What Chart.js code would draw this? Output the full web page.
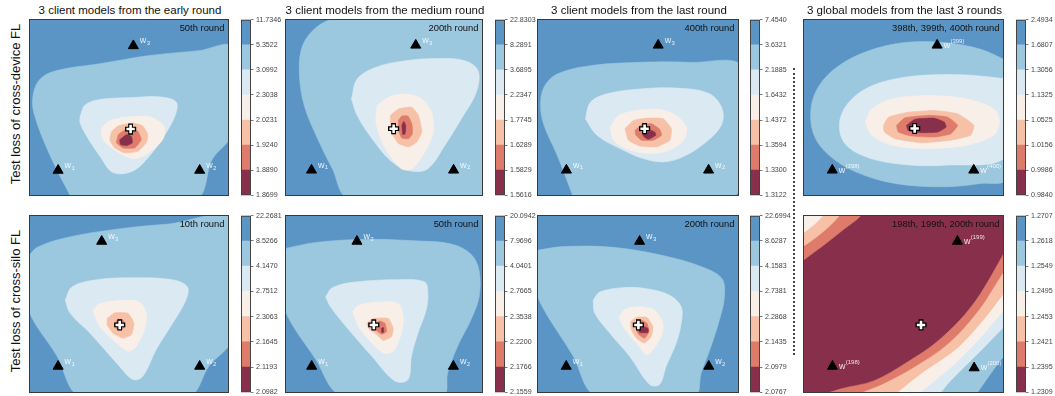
<!DOCTYPE html>
<html><head><meta charset="utf-8">
<script src="https://cdn.jsdelivr.net/npm/chart.js@4/dist/chart.umd.min.js"></script>
<style>
body{margin:0;width:1055px;height:396px;background:#fff;position:relative;overflow:hidden;font-family:"Liberation Sans",Arial,Helvetica,sans-serif;}
.frame{position:absolute;box-sizing:border-box;border:1px solid #3a3a3a;}
.frame canvas{display:block;}
.title{position:absolute;font-size:11.5px;line-height:11.5px;color:#111;white-space:nowrap;transform:translateX(-50%);}
.ylab{position:absolute;font-size:13px;line-height:13px;color:#111;white-space:nowrap;transform:translate(-50%,-50%) rotate(-90deg);}
.round{position:absolute;font-size:9.4px;line-height:9.4px;color:#111;white-space:nowrap;}
.sep{position:absolute;left:793px;top:68px;height:287px;border-left:2px dotted #444;}
</style></head><body>
<script>
// ---------- text ----------
const colTitles = ['3 client models from the early round','3 client models from the medium round','3 client models from the last round','3 global models from the last 3 rounds'];
const rowTitles = ['Test loss of cross-device FL','Test loss of cross-silo FL'];
const roundTexts = ['50th round','200th round','400th round','398th, 399th, 400th round','10th round','50th round','200th round','198th, 199th, 200th round'];
const clientLabels = ['1','2','3'];
const deviceGlobalLabels = ['(398)','(400)','(399)'];
const siloGlobalLabels = ['(198)','(200)','(199)'];

// ---------- colorbar tick labels (top to bottom) ----------
const p1Ticks = ['11.7346','5.3522','3.0992','2.3038','2.0231','1.9240','1.8890','1.8699'];
const p2Ticks = ['22.8303','8.2891','3.6895','2.2347','1.7745','1.6289','1.5829','1.5616'];
const p3Ticks = ['7.4540','3.6321','2.1885','1.6432','1.4372','1.3594','1.3300','1.3122'];
const p4Ticks = ['2.4934','1.6807','1.3056','1.1325','1.0525','1.0156','0.9986','0.9840'];
const p5Ticks = ['22.2681','8.5266','4.1470','2.7512','2.3063','2.1645','2.1193','2.0982'];
const p6Ticks = ['20.0942','7.9696','4.0401','2.7665','2.3538','2.2200','2.1766','2.1559'];
const p7Ticks = ['22.6994','8.6287','4.1583','2.7381','2.2868','2.1435','2.0979','2.0767'];
const p8Ticks = ['1.2707','1.2618','1.2549','1.2495','1.2453','1.2421','1.2395','1.2309'];

// ---------- model positions (w1, w2, w3) and averaged model (+) in plane coords 0..100 ----------
const p1Models = [[14.2,14.1],[85.7,14.1],[52.2,85.3]]; const p1Center = [50.8,37.7];
const p2Models = [[13.0,14.2],[85.5,14.2],[66.2,85.6]]; const p2Center = [54.9,37.9];
const p3Models = [[14.2,14.2],[85.3,14.2],[60.1,85.6]]; const p3Center = [53.3,37.9];
const p4Models = [[14.2,14.2],[85.3,14.2],[66.9,85.6]]; const p4Center = [55.6,38.0];
const p5Models = [[14.2,14.6],[85.7,14.6],[36.2,85.6]]; const p5Center = [45.3,38.1];
const p6Models = [[13.1,14.6],[85.4,14.6],[36.2,85.6]]; const p6Center = [44.8,38.1];
const p7Models = [[14.1,14.6],[85.4,14.6],[50.8,85.6]]; const p7Center = [50.2,38.1];
const p8Models = [[14.3,14.6],[85.5,13.7],[77.1,85.6]]; const p8Center = [58.8,38.1];

// ---------- contour level boundaries, outermost first ----------
const p1Bands = [5,4,3,2,1,0];
const p1Contours = [
 [[21.2,-2.3],[10.3,22.2],[2.0,46.7],[1.7,58.0],[5.3,66.5],[13.7,71.2],[35.3,75.0],[60.3,79.7],[85.3,82.5],[102,84.4],[102,35.4],[92,20.3],[83.7,-2.3]],
 [[25.3,44.8],[27.8,51.4],[35.3,54.6],[52.0,55.7],[65.3,56.1],[73.7,53.3],[73.7,46.7],[68.7,35.4],[60.3,22.2],[52.0,13.7],[42.0,12.8],[35.3,22.2],[28.7,33.5],[25.3,41.1]],
 [[40.3,42.6],[47.0,44.4],[60.3,44.8],[67.8,39.2],[67.0,31.6],[58.7,23.2],[52.0,20.7],[43.7,25.0],[37.0,31.6],[36.2,38.2]],
 [[41.2,36.3],[44.5,39.5],[52.0,41.1],[57.0,39.5],[59.5,34.5],[58.7,29.8],[54.5,25.0],[47.8,24.1],[42.8,26.9],[40.3,31.6]],
 [[44.5,34.5],[49.5,38.2],[54.5,36.3],[56.2,31.6],[52.8,26.9],[47.0,26.9],[43.7,29.8]],
 [[45.3,31.6],[48.7,34.5],[51.2,33.5],[51.7,29.8],[48.7,28.2],[45.7,28.8]]
];
const p2Bands = [5,4,3,2,1,0];
const p2Contours = [
 [[26.2,102.3],[15.2,95.6],[8.4,85.2],[6.8,70.1],[9.3,51.1],[16.9,30.3],[23.6,15.2],[32.1,-1.9],[108,-1.9],[108,102.3]],
 [[33.4,54.9],[36.3,66.3],[45.6,72.9],[60.8,76.7],[77.7,78.0],[91.2,76.7],[98.0,71.0],[97.1,58.7],[89.5,43.6],[81.1,28.4],[72.6,15.2],[64.2,13.6],[54.1,18.9],[43.9,32.2],[36.3,45.5]],
 [[46.5,51.1],[52.4,55.9],[60.8,57.8],[69.3,54.9],[74.3,47.3],[75.2,36.0],[70.9,24.6],[64.2,14.8],[59.1,14.8],[54.1,20.8],[49.0,30.3],[45.9,41.7]],
 [[53.2,45.5],[57.4,49.2],[64.2,50.2],[67.6,45.5],[69.3,36.0],[66.7,30.3],[62.5,27.5],[57.4,29.4],[53.7,36.0]],
 [[57.4,42.6],[59.1,45.1],[62.2,45.1],[64.2,40.7],[64.5,35.0],[62.5,32.2],[59.1,32.6],[57.4,36.9]],
 [[59.1,39.8],[60.1,42.0],[61.1,39.8],[60.8,35.0],[59.6,34.5]]
];
const p3Bands = [5,4,3,2,1,0];
const p3Contours = [
 [[17.9,-1.9],[9.6,22.7],[3.0,39.8],[1.3,51.1],[3.0,61.6],[9.6,69.1],[26.2,73.9],[51.0,75.8],[75.8,75.8],[102.3,72.9],[102.3,8.5],[95.7,-1.9]],
 [[23.7,43.6],[26.2,53.0],[34.4,57.8],[51.0,60.6],[70.9,61.0],[85.8,57.8],[92.1,49.2],[91.6,39.8],[84.1,30.3],[72.5,21.8],[62.6,18.9],[52.6,20.8],[41.1,26.5],[29.5,34.1]],
 [[36.1,38.8],[40.2,45.5],[49.3,48.3],[60.9,48.9],[69.2,45.5],[74.2,38.8],[73.3,32.2],[67.5,26.5],[57.6,23.7],[46.0,25.6],[37.7,31.3]],
 [[43.5,37.9],[47.7,42.6],[54.3,43.9],[62.6,43.6],[66.7,37.9],[65.9,31.3],[59.3,27.5],[51.0,28.0],[45.2,31.3]],
 [[48.5,36.9],[51.8,40.2],[56.8,40.7],[60.9,37.5],[61.8,34.1],[57.6,31.3],[51.8,31.3],[49.0,34.1]],
 [[52.6,36.0],[55.1,37.5],[58.4,36.0],[58.9,34.1],[55.1,31.8],[52.6,33.7]]
];
const p4Bands = [5,4,3,2,1,0];
const p4Contours = [
 [[102,76.7],[88.7,83.3],[70.5,87.1],[50.7,87.1],[32.5,82.4],[17.5,73.9],[7.6,62.5],[3.5,49.2],[5.1,34.1],[12.6,22.7],[25.8,13.3],[45.7,6.6],[70.5,4.7],[88.7,6.6],[102,9.5]],
 [[102,66.3],[82.1,68.6],[62.3,68.6],[45.7,66.3],[32.5,61.6],[22.5,53.0],[17.9,41.7],[20.0,30.3],[29.1,22.7],[45.7,18.0],[70.5,17.0],[102,22.7]],
 [[30.8,41.7],[34.1,49.2],[44.0,54.9],[62.3,56.8],[82.1,54.9],[95.4,49.2],[98.3,41.7],[95.4,34.1],[82.1,28.4],[62.3,26.5],[44.0,28.4],[34.1,34.1]],
 [[39.9,39.8],[42.4,44.5],[52.3,47.3],[65.6,48.3],[77.2,46.4],[85.4,39.8],[83.8,34.1],[73.8,31.3],[58.9,29.9],[45.7,32.2],[40.4,36.0]],
 [[46.5,39.8],[50.7,44.1],[62.3,45.5],[72.2,44.5],[77.2,39.8],[73.8,35.0],[65.6,33.1],[54.0,33.7],[47.4,36.0]],
 [[51.5,39.8],[55.6,43.2],[65.6,43.9],[70.5,41.7],[71.4,38.8],[67.2,36.0],[58.9,35.6],[52.3,36.9]]
];
const p5Bands = [5,4,3,2,1,0];
const p5Contours = [
 [[-1.3,76.5],[3.7,82.2],[18.7,87.8],[43.7,92.5],[68.7,95.3],[102,97.6],[102,30.6],[90.3,14.6],[80.3,-2.3],[25.3,-2.3],[13.7,20.3],[-1.3,48.4]],
 [[17.8,52.2],[21.2,59.7],[33.7,63.8],[52.0,64.9],[72.0,63.8],[79.5,59.7],[78.7,52.2],[72.0,39.0],[63.7,24.0],[57.0,9.0],[52.0,7.1],[43.7,16.5],[30.3,33.4],[20.3,44.7]],
 [[31.7,46.5],[35.3,50.3],[47.0,52.2],[55.3,51.2],[58.7,44.7],[57.8,35.3],[53.7,25.9],[49.5,23.1],[43.7,27.8],[35.3,37.1]],
 [[39.0,41.8],[42.8,45.0],[49.5,44.7],[52.5,39.0],[51.2,32.5],[47.0,30.6],[42.0,33.4],[39.0,38.1]],
 [[42.8,39.0],[44.5,41.3],[47.0,40.9],[47.8,37.1],[45.7,35.3],[43.3,36.2]],
 [[43.7,38.3],[44.5,39.4],[45.3,38.3],[44.5,37.1]]
];
const p6Bands = [5,4,3,2,1,0];
const p6Contours = [
 [[-1.7,81.2],[15.2,85.0],[40.4,86.7],[65.7,85.9],[84.2,84.1],[94.3,78.4],[98.5,69.0],[98.5,54.0],[94.3,40.9],[87.5,25.9],[82.5,10.9],[80.0,-2.3],[28.6,-2.3],[15.2,18.4],[-1.7,50.3]],
 [[20.2,54.0],[23.6,59.3],[35.4,62.5],[57.2,63.8],[70.7,62.5],[72.4,55.9],[71.5,46.5],[67.3,33.4],[64.0,20.3],[62.3,7.1],[55.6,6.2],[43.8,20.3],[32.0,35.3],[22.7,48.4]],
 [[34.0,45.6],[37.0,49.3],[47.1,51.2],[57.2,50.3],[59.8,42.8],[58.9,33.4],[54.7,23.1],[49.7,22.1],[43.8,27.8],[37.0,37.1]],
 [[41.2,39.0],[44.6,41.8],[52.2,41.8],[54.7,36.2],[53.9,31.5],[49.7,29.3],[46.3,32.5],[42.1,36.2]],
 [[45.5,39.0],[48.0,40.3],[50.5,39.0],[51.3,34.3],[48.8,32.8],[46.3,34.9]],
 [[48.7,36.2],[49.7,36.6],[49.8,34.0],[48.8,33.8]]
];
const p7Bands = [5,4,3,2,1,0];
const p7Contours = [
 [[-1.5,80.3],[12.6,82.6],[37.5,82.2],[62.5,77.5],[82.4,70.9],[92.0,64.4],[93.2,54.0],[90.7,40.9],[86.5,25.9],[81.6,10.9],[78.2,-2.3],[29.2,-2.3],[17.6,20.3],[-1.5,57.8]],
 [[27.6,52.2],[30.9,56.8],[42.5,59.3],[54.2,58.7],[65.8,55.0],[71.6,48.4],[71.6,39.0],[69.1,27.8],[64.1,14.6],[60.8,4.3],[55.8,4.3],[45.8,20.3],[35.9,33.4],[28.4,44.7]],
 [[40.5,42.8],[43.4,46.9],[50.8,48.4],[58.3,46.5],[62.5,39.0],[61.6,31.5],[57.5,24.0],[54.2,21.2],[49.2,27.8],[42.5,37.1]],
 [[46.2,40.0],[49.2,42.4],[54.5,42.4],[57.5,37.1],[56.6,31.5],[53.3,27.8],[49.2,30.6],[46.7,35.3]],
 [[48.8,39.4],[51.7,40.9],[54.5,39.0],[55.5,34.3],[53.3,30.6],[50.5,32.5],[48.8,36.2]],
 [[50.0,36.2],[52.5,37.1],[55.0,36.2],[55.0,33.8],[50.8,33.8]]
];
const p8Bands = [1,2,3,4,5,6,1,2,3];
const p8Contours = [
 [[103,85],[99.4,76.6],[84.7,49.4],[68.2,29.8],[51.6,16.7],[35.0,6.3],[18.4,1.7],[8,-3],[103,-3]],
 [[103,72],[99.4,66.3],[88.1,46.6],[73.1,27.9],[56.6,14.8],[40.0,4.5],[31.7,0.7],[25,-3],[103,-3]],
 [[103,60],[99.4,54.1],[89.7,40.1],[76.5,24.2],[59.9,11.1],[48.3,0.7],[45,-3],[103,-3]],
 [[103,49],[99.4,44.8],[88.1,29.8],[74.8,14.8],[59.9,0.7],[57,-3],[103,-3]],
 [[103,39],[99.4,35.4],[88.1,22.3],[73.1,5.4],[69.8,0.7],[67,-3],[103,-3]],
 [[103,22],[99.4,18.5],[88.1,0.7],[86,-3],[103,-3]],
 [[-5,70],[0,75.1],[10,83.5],[20,92.5],[28.4,100],[30,105],[-5,105]],
 [[-5,80],[0,83.1],[9,90.5],[17.6,100],[19,105],[-5,105]],
 [[-5,87],[0,90.6],[9.3,100],[10,105],[-5,105]]
];

// ---------- style / layout ----------
const COLORS = ['#88304b','#df7b6b','#f6c1a6','#f9efe9','#dbe9f2','#9bc7df','#5b95c5'];
const FONT = '"Liberation Sans", Arial, Helvetica, sans-serif';
const colX = [[29,229],[285,483],[537,739],[803,1004]];
const cbX = [[241,251],[495,505],[750,760],[1016,1026]];
const rowY = [[19,196],[215,393]];

const panels = [
 {c:p1Contours,b:p1Bands,base:6,m:p1Models,ctr:p1Center,t:p1Ticks,lab:clientLabels,sup:false},
 {c:p2Contours,b:p2Bands,base:6,m:p2Models,ctr:p2Center,t:p2Ticks,lab:clientLabels,sup:false},
 {c:p3Contours,b:p3Bands,base:6,m:p3Models,ctr:p3Center,t:p3Ticks,lab:clientLabels,sup:false},
 {c:p4Contours,b:p4Bands,base:6,m:p4Models,ctr:p4Center,t:p4Ticks,lab:deviceGlobalLabels,sup:true},
 {c:p5Contours,b:p5Bands,base:6,m:p5Models,ctr:p5Center,t:p5Ticks,lab:clientLabels,sup:false},
 {c:p6Contours,b:p6Bands,base:6,m:p6Models,ctr:p6Center,t:p6Ticks,lab:clientLabels,sup:false},
 {c:p7Contours,b:p7Bands,base:6,m:p7Models,ctr:p7Center,t:p7Ticks,lab:clientLabels,sup:false},
 {c:p8Contours,b:p8Bands,base:0,m:p8Models,ctr:p8Center,t:p8Ticks,lab:siloGlobalLabels,sup:true}
];

const pt = p => ({x:p[0], y:p[1]});

function labelPlugin(P){
  return {id:'wlabels', afterDatasetsDraw(chart){
    const ctx = chart.ctx, xs = chart.scales.x, ys = chart.scales.y;
    ctx.save();
    ctx.fillStyle = 'rgba(255,255,255,0.85)';
    ctx.textBaseline = 'alphabetic';
    ctx.textAlign = 'left';
    P.m.forEach((p,i)=>{
      const px = xs.getPixelForValue(p[0]), py = ys.getPixelForValue(p[1]);
      ctx.font = '9px ' + FONT;
      const bx = px + 6.5, by = py + (P.sup ? 2.5 : -2.5);
      ctx.fillText('w', bx, by);
      const ww = ctx.measureText('w').width;
      ctx.font = '6px ' + FONT;
      ctx.fillText(P.lab[i], bx + ww + 0.3, P.sup ? by - 5 : by + 1.8);
    });
    ctx.restore();
  }};
}

function drawPanel(pi){
  const P = panels[pi];
  const [L,R] = colX[pi%4]; const [T,B] = rowY[Math.floor(pi/4)];
  const frame = document.createElement('div');
  frame.className = 'frame';
  Object.assign(frame.style,{left:L+'px',top:T+'px',width:(R-L)+'px',height:(B-T)+'px'});
  const cv = document.createElement('canvas');
  cv.width = R-L-2; cv.height = B-T-2;
  cv.style.width = cv.width+'px'; cv.style.height = cv.height+'px';
  cv.style.background = COLORS[P.base];
  frame.appendChild(cv); document.body.appendChild(frame);

  const datasets = [];
  datasets.push({data:[pt(P.ctr)], pointStyle:'cross', pointRadius:4.2, borderColor:'#fff', backgroundColor:'#fff', borderWidth:2.6, order:0});
  datasets.push({data:[pt(P.ctr)], pointStyle:'cross', pointRadius:5.6, borderColor:'#000', backgroundColor:'#000', borderWidth:4.8, order:1});
  datasets.push({data:P.m.map(pt), pointStyle:'triangle', pointRadius:5.8, borderColor:'#000', backgroundColor:'#000', borderWidth:1, order:2});
  P.c.forEach((poly,i)=>{
    const band = P.b[i];
    let tension = 0.35;
    if (P.base === 6) tension = band >= 4 ? 0.35 : (band === 3 ? 0.28 : 0.15);
    datasets.push({data:poly.concat([poly[0]]).map(pt), showLine:true, fill:'shape',
      backgroundColor:COLORS[band], borderColor:COLORS[band], borderWidth:0.6,
      pointRadius:0, tension:tension, order:100-i});
  });

  new Chart(cv,{type:'scatter', data:{datasets},
    options:{responsive:false, animation:false, events:[], devicePixelRatio:1,
      layout:{padding:0, autoPadding:false},
      elements:{line:{capBezierPoints:false}},
      plugins:{legend:{display:false}, tooltip:{enabled:false}},
      scales:{x:{type:'linear',min:0,max:100,display:false}, y:{type:'linear',min:0,max:100,display:false}}},
    plugins:[labelPlugin(P)]});
}

function drawCbar(pi){
  const P = panels[pi];
  const [cL,cR] = cbX[pi%4]; const [T,B] = rowY[Math.floor(pi/4)];
  const pad = 6, axisW = 50;
  const cv = document.createElement('canvas');
  cv.width = (cR-cL)+axisW; cv.height = (B-T)+2*pad;
  Object.assign(cv.style,{position:'absolute',left:cL+'px',top:(T-pad)+'px',width:cv.width+'px',height:cv.height+'px'});
  document.body.appendChild(cv);
  new Chart(cv,{type:'bar',
    data:{labels:[''], datasets:COLORS.map(c=>({data:[1], backgroundColor:c, borderWidth:0, barPercentage:1, categoryPercentage:1}))},
    options:{responsive:false, animation:false, events:[], devicePixelRatio:1,
      layout:{padding:{top:pad,bottom:pad,left:0,right:0}, autoPadding:false},
      plugins:{legend:{display:false}, tooltip:{enabled:false}},
      scales:{
        x:{stacked:true, display:false},
        y:{stacked:true, min:0, max:7, position:'right', afterFit(s){ s.width = axisW; },
          ticks:{stepSize:1, autoSkip:false, color:'#444', font:{size:7.1, family:FONT}, padding:2.5, callback:v=>P.t[7-v]},
          grid:{drawOnChartArea:false, drawTicks:true, tickLength:2.5, color:'#555', lineWidth:0.8},
          border:{display:false}}}},
    plugins:[{id:'outline', afterDraw(ch){const a=ch.chartArea, c=ch.ctx; c.save(); c.strokeStyle='#444'; c.lineWidth=1; c.strokeRect(a.left+0.5,a.top+0.5,a.right-a.left-1,a.bottom-a.top-1); c.restore();}}]});
}

function addText(cls, txt, style){
  const d = document.createElement('div'); d.className = cls; d.textContent = txt;
  Object.assign(d.style, style); document.body.appendChild(d);
}

for (let i=0;i<8;i++){ drawPanel(i); drawCbar(i); }
colTitles.forEach((t,i)=>{ const [L,R]=colX[i]; addText('title', t, {left:((L+R)/2+1)+'px', top:'4.6px'}); });
rowTitles.forEach((t,r)=>{ const [T,B]=rowY[r]; addText('ylab', t, {left:'14.5px', top:((T+B)/2-3.5)+'px'}); });
roundTexts.forEach((t,i)=>{ const [L,R]=colX[i%4]; const [T]=rowY[Math.floor(i/4)]; addText('round', t, {right:(1055-(R-4.5))+'px', top:(T+3.6)+'px'}); });
const sep = document.createElement('div'); sep.className='sep'; document.body.appendChild(sep);
</script>
</body></html>
